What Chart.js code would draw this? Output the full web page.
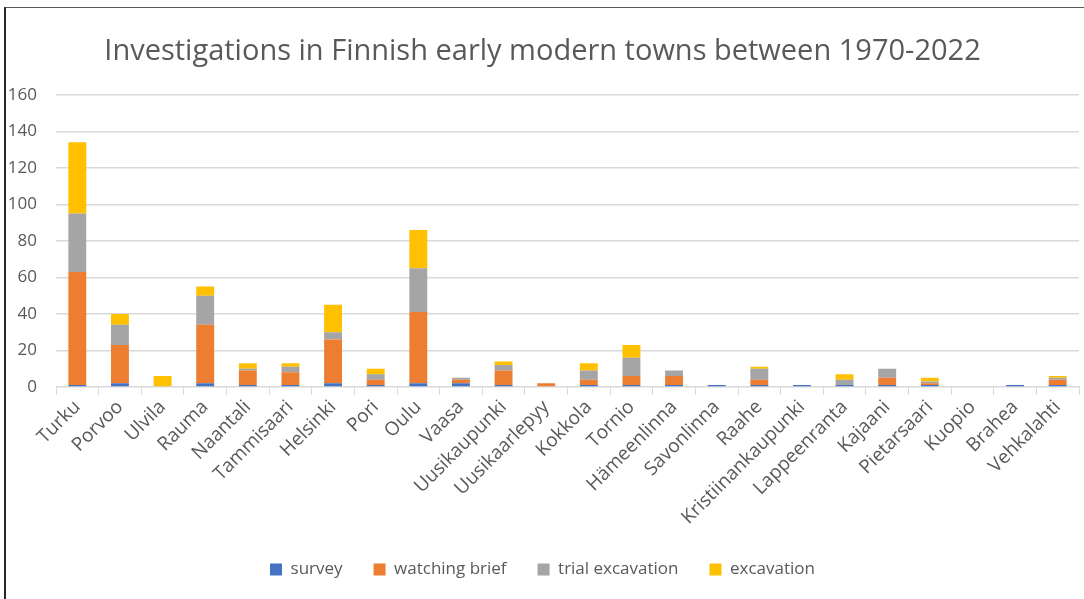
<!DOCTYPE html>
<html>
<head>
<meta charset="utf-8">
<script src="https://cdn.jsdelivr.net/npm/chart.js@4/dist/chart.umd.min.js"></script>
<style>
  body { margin: 0; background: #fff; }
  #frame {
    position: absolute; left: 4px; top: 7px;
    width: 1080px; height: 592px;
    border-left: 2px solid #262626;
    border-top: 1px solid #595959;
  }
</style>
</head>
<body>
<div id="frame"><canvas id="myChart" width="1080" height="592"></canvas></div>
<script>
// data

const towns = ["Turku", "Porvoo", "Ulvila", "Rauma", "Naantali", "Tammisaari", "Helsinki", "Pori",
  "Oulu", "Vaasa", "Uusikaupunki", "Uusikaarlepyy", "Kokkola", "Tornio", "Hämeenlinna", "Savonlinna",
  "Raahe", "Kristiinankaupunki", "Lappeenranta", "Kajaani", "Pietarsaari", "Kuopio", "Brahea", "Vehkalahti"];

const survey        = [1, 2, 0, 2, 1, 1, 2, 1, 2, 2, 1, 0, 1, 1, 1, 1, 1, 1, 1, 1, 1, 0, 1, 1];
const watchingBrief = [62, 21, 0, 32, 8, 7, 24, 3, 39, 2, 8, 2, 3, 5, 5, 0, 3, 0, 0, 4, 1, 0, 0, 3];
const trialExc      = [32, 11, 0, 16, 1, 3, 4, 3, 24, 1, 3, 0, 5, 10, 3, 0, 6, 0, 3, 5, 1, 0, 0, 1];
const excavation    = [39, 6, 6, 5, 3, 2, 15, 3, 21, 0, 2, 0, 4, 7, 0, 0, 1, 0, 3, 0, 2, 0, 0, 1];

const seriesNames = ["survey", "watching brief", "trial excavation", "excavation"];
const barColors = ["#4472C4", "#ED7D31", "#A5A5A5", "#FFC000"];
const yTicks = [0, 20, 40, 60, 80, 100, 120, 140, 160];

const allSeries = [survey, watchingBrief, trialExc, excavation];
const textColor = "#595959";
const fontFamily = "'Open Sans', sans-serif";

new Chart("myChart", {
  type: "bar",
  data: {
    labels: towns,
    datasets: allSeries.map((vals, i) => ({
      label: seriesNames[i],
      data: vals,
      backgroundColor: barColors[i],
      barPercentage: 0.42,
      categoryPercentage: 1
    }))
  },
  options: {
    responsive: false,
    animation: false,
    layout: { padding: { left: 0, right: 7, top: 12, bottom: 12 } },
    plugins: {
      title: {
        display: true,
        text: "Investigations in Finnish early modern towns between 1970-2022",
        color: textColor,
        font: { family: fontFamily, size: 29, weight: "normal" },
        padding: { top: 14, bottom: 26 }
      },
      legend: {
        position: "bottom",
        labels: {
          color: textColor,
          font: { family: fontFamily, size: 17 },
          boxWidth: 12,
          boxHeight: 12,
          padding: 31
        }
      },
      tooltip: { enabled: false }
    },
    scales: {
      x: {
        stacked: true,
        afterFit: axis => { axis.paddingLeft = 0; axis.paddingRight = 0; },
        grid: {
          offset: true,
          drawOnChartArea: false,
          color: "#d9d9d9",
          tickLength: 8
        },
        border: { color: "#d9d9d9", width: 1 },
        ticks: {
          color: textColor,
          font: { family: fontFamily, size: 19 },
          maxRotation: 45,
          minRotation: 45,
          autoSkip: false,
          padding: 1
        }
      },
      y: {
        stacked: true,
        min: 0,
        max: 160,
        afterBuildTicks: axis => { axis.ticks = yTicks.map(v => ({ value: v })); },
        afterFit: axis => { axis.width = 50; },
        grid: { color: "#d9d9d9", lineWidth: 1.5, drawTicks: false },
        border: { display: false },
        ticks: {
          color: textColor,
          font: { family: fontFamily, size: 17 },
          padding: 19
        }
      }
    }
  }
});
</script>
</body>
</html>
